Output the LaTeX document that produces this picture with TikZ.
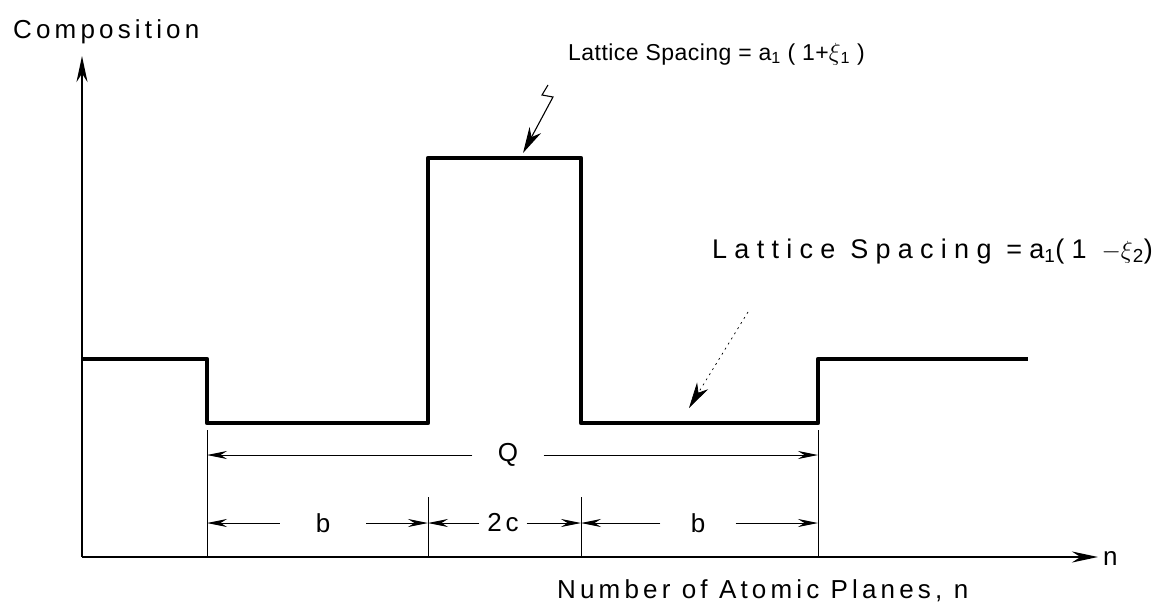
\documentclass[tikz,border=0pt]{standalone}
\usepackage{fontspec}
\setmainfont{Liberation Sans}
\newfontfamily\drafting{Liberation Sans}[LetterSpace=14]
\usetikzlibrary{arrows.meta}

\begin{document}
\begin{tikzpicture}[x=1pt,y=-1pt,
  axis/.style={line width=2.4pt,-{Stealth[length=26pt,width=11pt]}},
  profile/.style={line width=4.5pt,line join=round},
  dim/.style={line width=0.9pt,-{Stealth[length=20pt,width=8pt]}},
  ext/.style={line width=0.9pt},
  callout/.style={line width=1.1pt,-{Stealth[length=26pt,width=13pt,inset=8pt]}},
  lbl/.style={inner sep=0pt,anchor=base west},
  dimlbl/.style={inner sep=0pt,font=\fontsize{26}{28}\drafting}]
\useasboundingbox (0,0) rectangle (1176,613);
% axes
\coordinate (O) at (82,557);
\coordinate (ytop) at (82,56);
\coordinate (xend) at (1098,557);
\draw[axis] (O) -- (ytop);
\draw[axis] (O) -- (xend);
\node[inner sep=0pt,anchor=base west,font=\fontsize{26}{28}\selectfont] (n) at (1103,565) {n};
% composition profile
\draw[profile] (83,359) -- (207,359) -- (207,423) -- (428,423) -- (428,158)
  -- (581,158) -- (581,423) -- (818,423) -- (818,359) -- (1028,359);
\coordinate (s1) at (207,423);
\coordinate (s2) at (428,423);
\coordinate (s3) at (581,423);
\coordinate (s4) at (818,423);
% extension lines
\draw[ext] (207,430) -- (207,557);
\draw[ext] (818,430) -- (818,557);
\draw[ext] (428,497) -- (428,557);
\draw[ext] (581,497) -- (581,557);
% dimensions
\node[dimlbl,minimum width=71pt] (Q) at (508,455) {Q};
\draw[dim] (Q.west) -- (Q.west -| s1);
\draw[dim] (Q.east) -- (Q.east -| s4);
\node[dimlbl,minimum width=86pt] (bl) at (323,523) {b};
\draw[dim] (bl.west) -- (bl.west -| s1);
\draw[dim] (bl.east) -- (bl.east -| s2);
\node[dimlbl,minimum width=47pt] (cc) at (503,523) {2c};
\draw[dim] (cc.west) -- (cc.west -| s2);
\draw[dim] (cc.east) -- (cc.east -| s3);
\node[dimlbl,minimum width=75pt] (br) at (698,523) {b};
\draw[dim] (br.west) -- (br.west -| s3);
\draw[dim] (br.east) -- (br.east -| s4);
% labels
\node[lbl,font={\fontsize{26}{28}\drafting\addfontfeature{LetterSpace=16}}] (comp) at (13,38) {Composition};
\node[lbl,font={\fontsize{23}{26}\drafting\addfontfeature{LetterSpace=2}}] (upper) at (568,60)
  {Lattice Spacing = a\textsubscript{1} ( 1+$\xi$\textsubscript{1} )};
\node[lbl,font={\fontsize{27}{30}\drafting\addfontfeature{LetterSpace=27}}] (lower) at (712,258)
  {Lattice Spacing =a\textsubscript{1}(1 $-\xi$\textsubscript{2})};
\node[lbl,font={\fontsize{26}{28}\drafting\addfontfeature{LetterSpace=16}}] (nlabel) at (557,598) {Number of Atomic Planes, n};
% callouts
\coordinate (sqTop) at (548,85);
\coordinate (tipTop) at (523,153);
\draw[callout] (sqTop) -- ++(-6,10) -- ++(11,2) -- (tipTop);
\coordinate (dotStart) at (748,312);
\coordinate (tipLow) at (689,408);
\draw[callout,line width=0.7pt,dash pattern=on 2pt off 4pt] (dotStart) -- (tipLow);
\end{tikzpicture}
\end{document}
